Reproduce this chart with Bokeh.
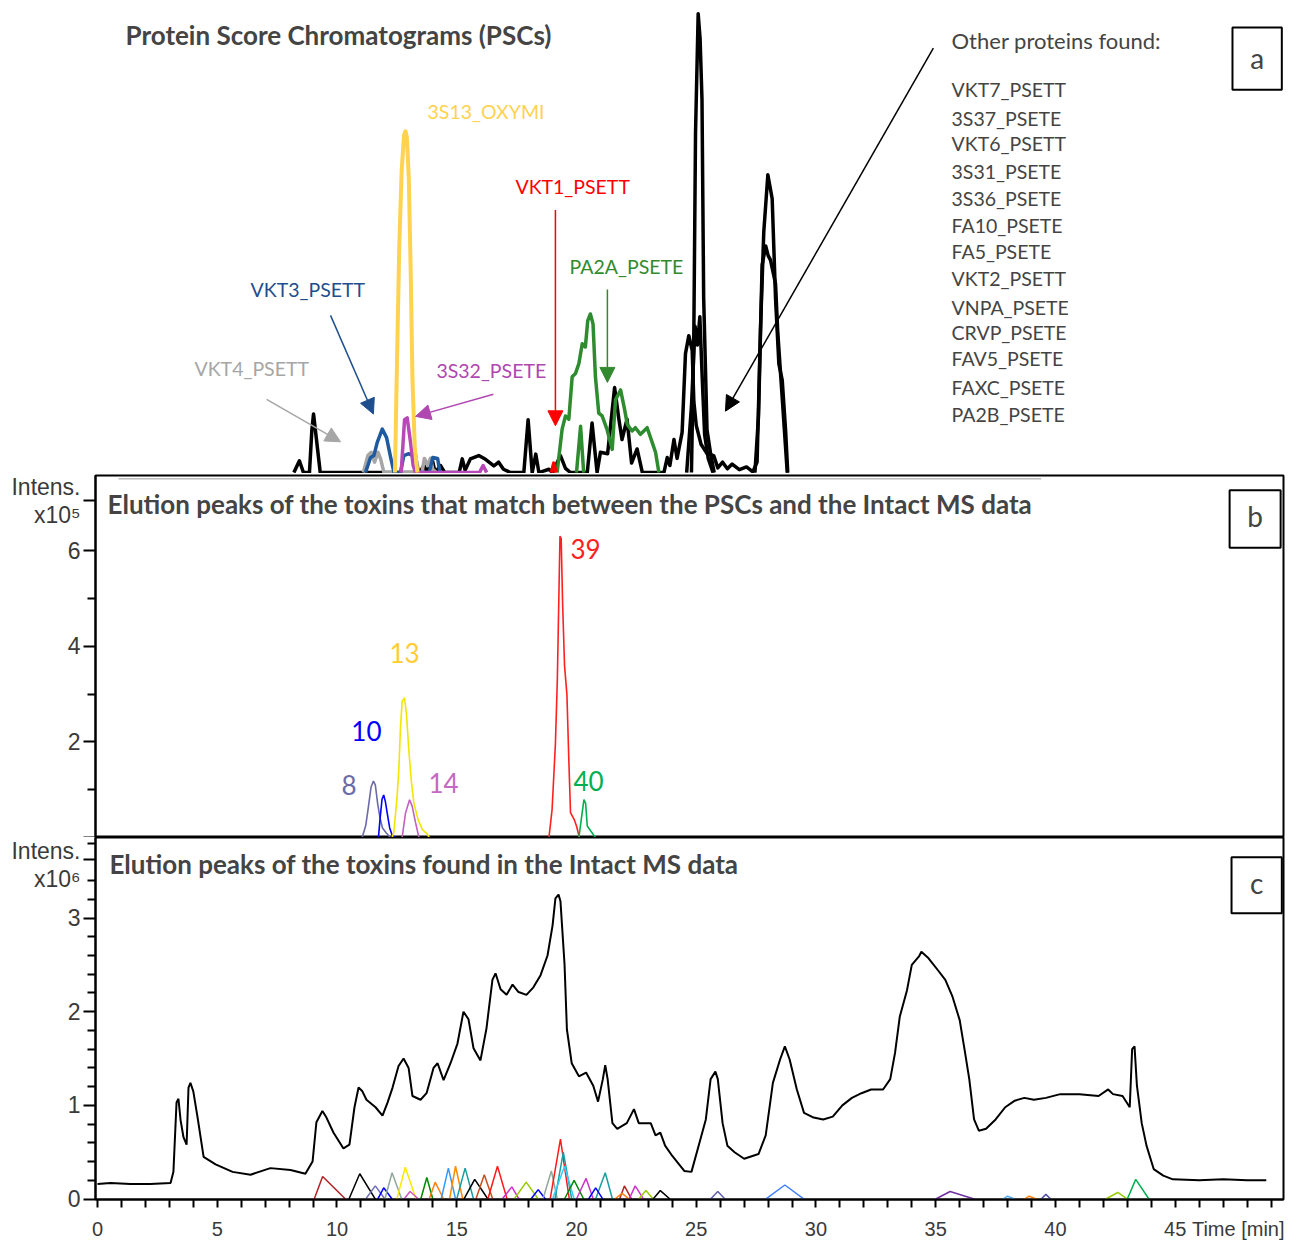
import numpy as np
from bokeh.plotting import figure
from bokeh.models import Range1d, FixedTicker, Label, Arrow, NormalHead, BoxAnnotation
from bokeh.layouts import column
from bokeh.embed import file_html
from bokeh.resources import INLINE

# ---------------- Panel a : Protein Score Chromatograms (score units) ----------------
psc_black_main_t = [8.2, 8.43, 8.6, 8.85, 8.95, 9.02, 9.12, 9.3, 13.45, 13.63, 13.77, 13.97, 14.1, 14.32, 14.5,
                    15.1, 15.23, 15.35, 15.57, 15.92, 16.2, 16.55, 16.75, 16.95, 17.25, 17.8, 17.98, 18.15, 18.3,
                    18.43, 18.85, 19.0, 19.33, 19.54, 19.75, 20.45, 20.65, 20.86, 21.0, 21.3, 21.59, 21.77, 21.9,
                    22.11, 22.3, 22.53, 22.75, 23.65, 23.79, 23.9, 24.07, 24.2, 24.41, 24.55, 24.69, 24.83, 24.9,
                    25.0, 25.2, 25.45, 25.73, 25.9, 26.1, 26.3, 26.5, 26.8, 27.1, 27.4]
psc_black_main_v = [0, 2.5, 0, 0, 9, 12.4, 8, 0, 0, 1.5, 0, 2.9, 0, 1.5, 0,
                    0, 2.9, 0.5, 2.9, 3.6, 2.8, 1.4, 2.2, 0.7, 0, 0, 11.2, 0, 3.9,
                    0, 0.7, 0, 3.6, 0.9, 0, 0, 10.5, 0, 4.3, 4.0, 18.0, 11.3, 7.0,
                    11.3, 2.0, 5.0, 0, 0, 3.2, 1.5, 7.0, 3.0, 8.5, 25.2, 29.0, 25.9, 15.0,
                    10.0, 6.0, 4.0, 3.6, 1.0, 2.2, 0.8, 1.8, 0.6, 1.2, 0]
psc_black_spike_t = [24.8, 24.9, 24.97, 25.08, 25.16, 25.24, 25.31, 25.45, 25.6, 25.75]
psc_black_spike_v = [0, 30, 72, 97.2, 92, 79, 37, 9, 4, 0]
psc_black_cluster_t = [24.6, 24.8, 24.95, 25.05, 25.15, 25.25, 25.35, 25.5, 25.7]
psc_black_cluster_v = [0, 14, 31, 27, 33, 20, 8, 3, 0]
psc_black_late1_t = [27.35, 27.54, 27.68, 27.82, 27.99, 28.17, 28.31, 28.45, 28.59, 28.73, 28.82]
psc_black_late1_v = [0, 2.2, 30, 51, 63.1, 58, 37, 23, 19.6, 9, 0]
psc_black_late2_t = [27.45, 27.6, 27.75, 27.9, 28.0, 28.1, 28.31, 28.4, 28.6, 28.8]
psc_black_late2_v = [0, 12, 44, 48, 46, 45, 40, 30, 15, 0]
psc_yellow_t = [12.42, 12.5, 12.6, 12.7, 12.8, 12.86, 12.92, 13.0, 13.08, 13.15, 13.25, 13.36]
psc_yellow_v = [0, 22, 48, 64, 71.5, 72.3, 71, 62, 42, 20, 5, 0]
psc_blue_t = [11.19, 11.4, 11.54, 11.68, 11.89, 12.07, 12.24, 12.38, 12.65, 12.79, 13.0, 13.14, 13.24, 13.35,
              13.42, 13.85, 14.0, 14.2, 14.3]
psc_blue_v = [0, 3.2, 3.6, 6.4, 9.2, 7.4, 3.2, 0, 0, 3.6, 4.0, 3.6, 4.8, 1.5, 0, 0, 3.2, 3.0, 0]
psc_magenta_t = [12.68, 12.82, 12.93, 13.07, 13.18, 13.28, 15.95, 16.1, 16.25]
psc_magenta_v = [0, 11.2, 11.6, 6.4, 1.5, 0, 0, 1.5, 0]
psc_gray_t = [11.1, 11.29, 11.43, 11.57, 11.71, 11.82, 11.96, 13.55, 13.65, 13.8, 13.9, 14.0, 14.15]
psc_gray_v = [0, 3.6, 4.3, 2.2, 4.3, 2.9, 0, 0, 3.0, 1.5, 3.0, 0.7, 0]
psc_green_t = [19.19, 19.4, 19.54, 19.68, 19.82, 19.96, 20.1, 20.24, 20.37, 20.47, 20.58, 20.69, 20.79, 20.93,
               21.07, 21.27, 21.49, 21.63, 21.84, 22.0, 22.12, 22.32, 22.46, 22.67, 22.95, 23.16, 23.3, 23.44]
psc_green_v = [0, 9.2, 12.0, 11.3, 20.3, 21.0, 23.1, 27.3, 26.6, 32.2, 33.6, 31.5, 20.3, 12.6,
               12.0, 9.2, 4.9, 15.4, 17.5, 13.6, 10.2, 8.8, 9.5, 8.1, 9.5, 6.4, 4.3, 0]
psc_green2_t = [20.0, 20.17, 20.3]
psc_green2_v = [0, 9.8, 0]
psc_red_t = [18.95, 19.05, 19.15]
psc_red_v = [0, 2.0, 0]

other_proteins = ["VKT7_PSETT", "3S37_PSETE", "VKT6_PSETT", "3S31_PSETE", "3S36_PSETE", "FA10_PSETE",
                  "FA5_PSETE", "VKT2_PSETT", "VNPA_PSETE", "CRVP_PSETE", "FAV5_PSETE", "FAXC_PSETE", "PA2B_PSETE"]

# ---------------- Panel b : matching toxins (x10^5) ----------------
b8_t = [11.05, 11.2, 11.3, 11.42, 11.52, 11.6, 11.7, 11.8, 11.9, 12.05, 12.23]
b8_v = [0, 0.25, 0.6, 1.05, 1.18, 1.1, 0.7, 0.4, 0.2, 0.1, 0]
b10_t = [11.73, 11.8, 11.88, 11.95, 12.02, 12.1, 12.2, 12.3, 12.44]
b10_v = [0, 0.4, 0.8, 0.89, 0.75, 0.5, 0.2, 0.05, 0]
b13_t = [12.3, 12.37, 12.51, 12.58, 12.65, 12.72, 12.82, 12.9, 13.0, 13.1, 13.21, 13.38, 13.56, 13.77, 13.85]
b13_v = [0, 0.1, 0.86, 1.41, 2.3, 2.85, 2.92, 2.58, 1.82, 1.2, 0.72, 0.38, 0.17, 0.07, 0]
b14_t = [12.72, 12.86, 13.03, 13.14, 13.28, 13.42]
b14_v = [0, 0.51, 0.79, 0.65, 0.31, 0]
b39_t = [18.85, 18.98, 19.12, 19.2, 19.27, 19.31, 19.36, 19.42, 19.5, 19.6, 19.68, 19.75, 19.9, 20.0, 20.12]
b39_v = [0, 0.58, 1.96, 3.3, 5.2, 6.3, 6.25, 4.9, 3.6, 2.99, 1.62, 0.52, 0.38, 0.24, 0]
b40_t = [20.1, 20.2, 20.31, 20.38, 20.45, 20.59, 20.79]
b40_v = [0, 0.38, 0.79, 0.72, 0.24, 0.14, 0]
b_labels = ["8", "10", "13", "14", "39", "40"]
b_label_t = [10.19, 10.6, 12.19, 13.82, 19.75, 19.87]
b_label_v = [1.09, 2.23, 3.86, 1.15, 6.04, 1.18]

# ---------------- Panel c : TIC and toxins found (x10^6) ----------------
tic_t = [0, 0.54, 1.38, 2.2, 3.05, 3.17, 3.3, 3.38, 3.47, 3.59, 3.72, 3.8, 3.88, 4.0, 4.18, 4.43, 4.93, 5.64,
         6.39, 7.22, 8.06, 8.68, 8.98, 9.14, 9.39, 9.56, 9.85, 10.27, 10.52, 10.73, 10.9, 11.06, 11.23, 11.61,
         11.9, 12.11, 12.32, 12.57, 12.78, 12.99, 13.15, 13.49, 13.74, 14.03, 14.2, 14.45, 14.74, 15.03, 15.28,
         15.49, 15.7, 15.99, 16.24, 16.49, 16.62, 16.83, 17.08, 17.33, 17.58, 17.91, 18.2, 18.5, 18.79, 19.0,
         19.12, 19.25, 19.33, 19.5, 19.6, 19.8, 20.1, 20.4, 20.7, 20.9, 21.1, 21.2, 21.3, 21.5, 21.7, 22.1,
         22.4, 22.6, 22.9, 23.1, 23.3, 23.5, 23.7, 24.0, 24.5, 24.8, 25.1, 25.4, 25.6, 25.8, 25.9, 26.1, 26.3,
         26.6, 27.0, 27.6, 27.9, 28.2, 28.5, 28.7, 28.9, 29.2, 29.5, 29.9, 30.3, 30.7, 31.1, 31.5, 31.9, 32.3,
         32.8, 33.1, 33.3, 33.5, 33.8, 34.0, 34.3, 34.4, 34.7, 35.1, 35.4, 35.7, 36.0, 36.2, 36.4, 36.6, 36.8,
         37.1, 37.5, 37.9, 38.3, 38.7, 39.1, 39.6, 40.2, 41.0, 41.8, 42.2, 42.4, 42.8, 43.1, 43.2, 43.3, 43.4,
         43.6, 43.8, 44.1, 44.5, 44.9, 46.0, 47.0, 48.0, 48.8]
tic_v = [0.16, 0.17, 0.16, 0.16, 0.17, 0.29, 1.03, 1.07, 0.84, 0.66, 0.58, 1.19, 1.24, 1.15, 0.87, 0.45, 0.37,
         0.29, 0.26, 0.33, 0.31, 0.27, 0.40, 0.82, 0.94, 0.87, 0.71, 0.54, 0.58, 0.98, 1.19, 1.15, 1.06, 0.98,
         0.89, 1.03, 1.19, 1.42, 1.50, 1.40, 1.10, 1.06, 1.13, 1.40, 1.45, 1.27, 1.45, 1.66, 2.0,
         1.92, 1.61, 1.48, 1.82, 2.34, 2.41, 2.24, 2.18, 2.29, 2.21, 2.18, 2.26, 2.39, 2.60, 2.92,
         3.21, 3.25, 3.18, 2.51, 1.81, 1.45, 1.31, 1.35, 1.21, 1.04, 1.28, 1.43, 1.28, 0.81, 0.75, 0.81,
         0.96, 0.81, 0.81, 0.81, 0.68, 0.71, 0.57, 0.46, 0.30, 0.29, 0.57, 0.85, 1.28, 1.36, 1.28, 0.81, 0.57,
         0.50, 0.43, 0.48, 0.68, 1.24, 1.49, 1.63, 1.49, 1.17, 0.92, 0.87, 0.85, 0.88, 1.0, 1.08, 1.13, 1.17,
         1.17, 1.28, 1.56, 1.95, 2.23, 2.50, 2.59, 2.64, 2.57, 2.44, 2.34, 2.16, 1.91, 1.60, 1.28, 0.85, 0.73,
         0.75, 0.85, 0.98, 1.05, 1.08, 1.06, 1.08, 1.12, 1.12, 1.10, 1.17, 1.12, 1.10, 0.98, 1.60, 1.63, 1.21,
         0.81, 0.57, 0.32, 0.25, 0.21, 0.20, 0.21, 0.20, 0.20]

toxin_start = [9.05, 10.5, 11.2, 11.7, 12.0, 12.5, 12.8, 13.5, 13.85, 14.35, 14.7, 15.0, 15.3, 15.8, 16.3, 16.9,
               17.4, 18.1, 18.6, 18.9, 19.1, 19.0, 19.5, 20.0, 20.8, 20.5, 21.8, 22.2, 22.6, 23.2, 21.6, 25.6,
               27.9, 35.0, 37.8, 38.7, 39.4, 42.1, 43.0]
toxin_apex = [9.4, 10.95, 11.6, 11.95, 12.3, 12.85, 13.05, 13.75, 14.1, 14.65, 14.95, 15.35, 15.75, 16.15, 16.7,
              17.3, 17.9, 18.4, 18.95, 19.33, 19.45, 19.5, 19.9, 20.4, 21.2, 20.8, 22.0, 22.45, 22.9, 23.5, 21.9,
              25.9, 28.7, 35.6, 38.0, 38.9, 39.6, 42.6, 43.35]
toxin_end = [10.35, 11.6, 12.0, 12.3, 12.7, 13.3, 13.4, 14.0, 14.45, 14.95, 15.25, 15.7, 16.3, 16.5, 17.1, 17.6,
             18.4, 18.7, 19.2, 19.7, 19.8, 19.9, 20.3, 20.7, 21.5, 21.1, 22.3, 22.8, 23.2, 23.9, 22.2, 26.2,
             29.5, 36.6, 38.3, 39.2, 39.8, 43.0, 43.9]
toxin_height = [0.24, 0.27, 0.14, 0.12, 0.28, 0.34, 0.08, 0.23, 0.18, 0.33, 0.35, 0.33, 0.21, 0.26, 0.35, 0.13,
                0.18, 0.10, 0.30, 0.64, 0.50, 0.35, 0.20, 0.22, 0.28, 0.12, 0.14, 0.14, 0.09, 0.09, 0.06, 0.08,
                0.15, 0.08, 0.03, 0.03, 0.05, 0.07, 0.21]
toxin_colors = ["#B22222", "#000000", "#7070B0", "#0000FF", "#8FA89A", "#FFE800", "#CC55CC", "#008A00",
                "#FF7F0E", "#3399FF", "#FF8C00", "#1A9E9E", "#000000", "#C8501E", "#FF1A1A", "#CC33CC",
                "#99CC00", "#0000FF", "#8FA89A", "#FF1A1A", "#1A9E9E", "#33CCFF", "#008A00", "#CC33CC",
                "#1A9E9E", "#0000FF", "#B22222", "#CC33CC", "#99CC00", "#000000", "#FF7F0E", "#6060B0",
                "#4080FF", "#7030A0", "#55AAEE", "#FF7F0E", "#5050B0", "#99CC00", "#00B050"]

x_major = [0, 5, 10, 15, 20, 25, 30, 35, 40, 45, 47.63]
x_labels = {47.63: "Time [min]"}
x_minor = list(range(0, 50))
yb_major = [0, 2, 4, 6, 7.05]
yb_labels = {0: "", 7.05: "Intens.\nx10\u2075"}
yb_minor = [1, 3, 5]
yc_major = [0, 1, 2, 3, 3.62]
yc_labels = {3.62: "Intens.\nx10\u2076"}
yc_minor = [0.2, 0.4, 0.6, 0.8, 1.2, 1.4, 1.6, 1.8, 2.2, 2.4, 2.6, 2.8, 3.2, 3.4, 3.8]

# ---------------- figures ----------------
xr = Range1d(-0.0835, 49.52)
TICK_FONT = "Liberation Sans"
TITLE_FONT = "Lato"
TICK_COLOR = "#3a3a3a"
FW = 1188

fa = figure(frame_width=FW, frame_height=473, x_range=xr, y_range=Range1d(-0.2, 100),
            x_axis_location=None, y_axis_location=None, toolbar_location=None,
            output_backend="svg", min_border_left=95, min_border_right=2,
            min_border_top=0, min_border_bottom=0, outline_line_color=None)
fa.grid.visible = False

for tt, vv in [(psc_black_main_t, psc_black_main_v), (psc_black_spike_t, psc_black_spike_v),
               (psc_black_cluster_t, psc_black_cluster_v), (psc_black_late1_t, psc_black_late1_v),
               (psc_black_late2_t, psc_black_late2_v)]:
    fa.line(tt, vv, line_color="black", line_width=3.5, line_join="round")
fa.line(psc_green_t, psc_green_v, line_color="#2E8B2E", line_width=3.5, line_join="round")
fa.line(psc_green2_t, psc_green2_v, line_color="#2E8B2E", line_width=3.5, line_join="round")
fa.line(psc_red_t, psc_red_v, line_color="#FF0000", line_width=3.5, line_join="round")
fa.line(psc_gray_t, psc_gray_v, line_color="#A6A6A6", line_width=3.5, line_join="round")
fa.line(psc_blue_t, psc_blue_v, line_color="#1F5A9E", line_width=3.5, line_join="round")
fa.line(psc_magenta_t, psc_magenta_v, line_color="#B847B8", line_width=3.5, line_join="round")
fa.line(psc_yellow_t, psc_yellow_v, line_color="#FFD24F", line_width=4, line_join="round")

fa.add_layout(Label(x=1.17, y=92.7, text="Protein Score Chromatograms (PSCs)", text_font=TITLE_FONT,
                    text_font_style="bold", text_font_size="26px", text_baseline="middle"))
ann = [("3S13_OXYMI", 13.78, 76.5, "#FFD24F"), ("VKT1_PSETT", 17.45, 60.6, "#FF0000"),
       ("PA2A_PSETE", 19.71, 43.6, "#338A2E"), ("VKT3_PSETT", 6.39, 38.8, "#1F4E8C"),
       ("VKT4_PSETT", 4.05, 22.0, "#A6A6A6"), ("3S32_PSETE", 14.15, 21.6, "#B047B0")]
for txt, x, y, c in ann:
    fa.add_layout(Label(x=x, y=y, text=txt, text_color=c, text_font=TITLE_FONT,
                        text_font_size="19.5px", text_baseline="middle"))
arrows = [(9.73, 33.3, 11.52, 12.4, "#1F4E8C"), (7.06, 15.5, 10.15, 6.5, "#A6A6A6"),
          (16.53, 16.6, 13.28, 11.9, "#B047B0"), (19.12, 55.6, 19.12, 9.9, "#FF0000"),
          (21.29, 38.8, 21.29, 19.1, "#338A2E"), (34.9, 89.9, 26.22, 13.0, "#000000")]
for x0, y0, x1, y1, c in arrows:
    fa.add_layout(Arrow(end=NormalHead(size=15, fill_color=c, line_color=c), x_start=x0, y_start=y0,
                        x_end=x1, y_end=y1, line_color=c, line_width=1.5))
fa.add_layout(Label(x=35.66, y=91.6, text="Other proteins found:", text_font=TITLE_FONT,
                    text_font_size="22px", text_baseline="middle"))
list_v = [81.1, 75.1, 69.8, 63.7, 58.1, 52.4, 46.8, 41.1, 35.0, 29.6, 24.1, 18.0, 12.4]
for name, yv in zip(other_proteins, list_v):
    fa.add_layout(Label(x=35.66, y=yv, text=name, text_font=TITLE_FONT, text_font_size="19.5px",
                        text_baseline="middle"))
fa.add_layout(BoxAnnotation(left=47.39, right=49.45, top=94.3, bottom=81.1, fill_alpha=0,
                            line_color="black", line_width=2, line_alpha=1))
fa.add_layout(Label(x=48.42, y=87.8, text="a", text_font=TITLE_FONT, text_font_size="28px",
                    text_align="center", text_baseline="middle"))


def style_axis(ax, size, major_out=12, minor_out=8):
    ax.axis_line_width = 2
    ax.axis_line_color = "black"
    ax.major_tick_line_width = 2
    ax.minor_tick_line_width = 2
    ax.major_tick_out = major_out
    ax.major_tick_in = 0
    ax.minor_tick_out = minor_out
    ax.minor_tick_in = 0
    ax.major_label_text_font = TICK_FONT
    ax.major_label_text_font_size = size
    ax.major_label_text_color = TICK_COLOR
    ax.major_label_text_line_height = 1.1
    ax.major_label_standoff = 3


fb = figure(frame_width=FW, frame_height=362, x_range=xr, y_range=Range1d(0, 7.57),
            x_axis_location=None, toolbar_location=None, output_backend="svg",
            min_border_left=95, min_border_right=2, min_border_top=2, min_border_bottom=0,
            outline_line_color="black", outline_line_width=2)
fb.grid.visible = False
fb.yaxis.ticker = FixedTicker(ticks=yb_major, minor_ticks=yb_minor)
fb.yaxis.major_label_overrides = yb_labels
style_axis(fb.yaxis[0], "23px")
fb.line([0.88, 39.4], [7.5, 7.5], line_color="#9a9a9a", line_width=1)
for tt, vv, c in [(b8_t, b8_v, "#6B6BA8"), (b10_t, b10_v, "#0000FF"), (b13_t, b13_v, "#F2E600"),
                  (b14_t, b14_v, "#C060C0"), (b39_t, b39_v, "#FF2020"), (b40_t, b40_v, "#00B050")]:
    fb.line(tt, vv, line_color=c, line_width=1.6)
b_label_colors = ["#6B6BA8", "#0000FF", "#FFCC33", "#C36BC3", "#FF2020", "#00B050"]
for txt, x, y, c in zip(b_labels, b_label_t, b_label_v, b_label_colors):
    fb.add_layout(Label(x=x, y=y, text=txt, text_color=c, text_font=TITLE_FONT, text_font_size="26px",
                        text_baseline="middle"))
fb.add_layout(Label(x=0.42, y=6.97,
                    text="Elution peaks of the toxins that match between the PSCs and the Intact MS data",
                    text_font=TITLE_FONT, text_font_style="bold", text_font_size="26px", text_baseline="middle"))
fb.add_layout(BoxAnnotation(left=47.27, right=49.4, top=7.26, bottom=6.06, fill_alpha=0,
                            line_color="black", line_width=2, line_alpha=1))
fb.add_layout(Label(x=48.33, y=6.72, text="b", text_font=TITLE_FONT, text_font_size="28px",
                    text_align="center", text_baseline="middle"))

fc = figure(frame_width=FW, frame_height=362, x_range=xr, y_range=Range1d(-0.005, 3.86),
            toolbar_location=None, output_backend="svg",
            min_border_left=95, min_border_right=2, min_border_top=0, min_border_bottom=0,
            outline_line_color="black", outline_line_width=2)
fc.grid.visible = False
fc.yaxis.ticker = FixedTicker(ticks=yc_major, minor_ticks=yc_minor)
fc.yaxis.major_label_overrides = yc_labels
fc.xaxis.ticker = FixedTicker(ticks=x_major, minor_ticks=x_minor)
fc.xaxis.major_label_overrides = x_labels
style_axis(fc.yaxis[0], "23px")
style_axis(fc.xaxis[0], "20px", major_out=0, minor_out=8)
fc.xaxis.major_label_standoff = 10

for s, a, e, h, c in zip(toxin_start, toxin_apex, toxin_end, toxin_height, toxin_colors):
    fc.line([s, a, e], [0, h, 0], line_color=c, line_width=1.5)
fc.line(tic_t, tic_v, line_color="black", line_width=2)

fc.add_layout(Label(x=0.5, y=3.58, text="Elution peaks of the toxins found in the Intact MS data",
                    text_font=TITLE_FONT, text_font_style="bold", text_font_size="26px", text_baseline="middle"))
fc.add_layout(BoxAnnotation(left=47.35, right=49.45, top=3.65, bottom=3.05, fill_alpha=0,
                            line_color="black", line_width=2, line_alpha=1))
fc.add_layout(Label(x=48.4, y=3.37, text="c", text_font=TITLE_FONT, text_font_size="28px",
                    text_align="center", text_baseline="middle"))

p = column(fa, fb, fc, spacing=0)
open("out.html", "w").write(file_html(p, INLINE))
